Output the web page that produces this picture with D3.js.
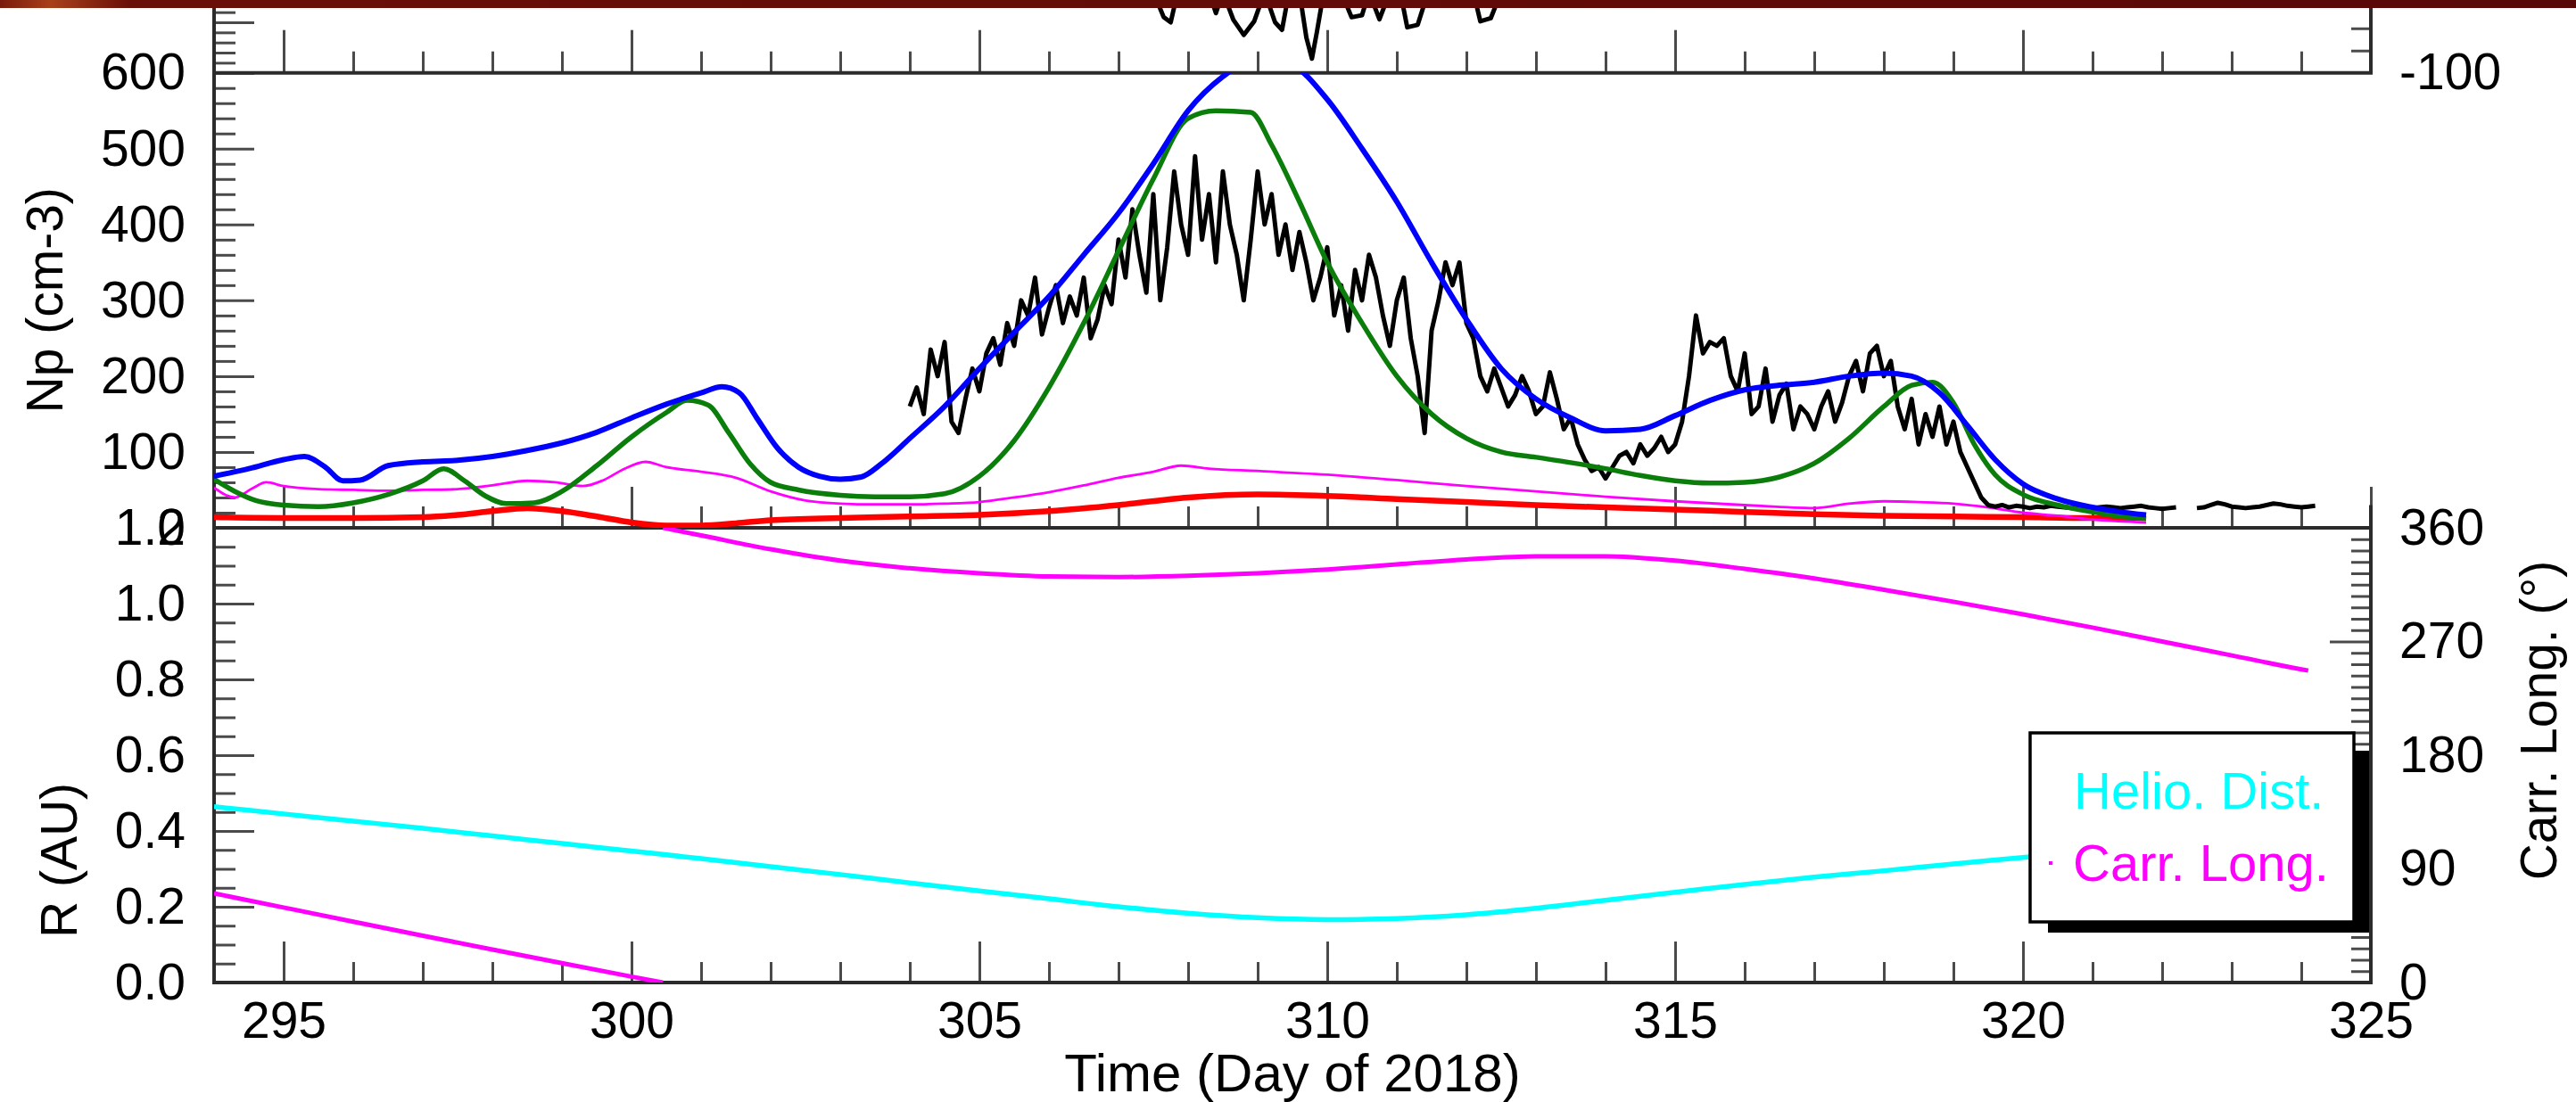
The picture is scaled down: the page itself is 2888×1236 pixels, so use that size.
<!DOCTYPE html>
<html>
<head>
<meta charset="utf-8">
<script src="https://cdn.jsdelivr.net/npm/d3@7"></script>
<style>
  html, body { margin: 0; padding: 0; background: #ffffff; }
  svg { display: block; }
  text { font-family: "Liberation Sans", Arial, Helvetica, sans-serif; fill: #000; }
</style>
</head>
<body>
<svg id="chart" width="2888" height="1236"></svg>
<script>
// ---------------- data ----------------
const dayMajor = [295, 300, 305, 310, 315, 320, 325];
const dayMinor = d3.range(294, 326);
const npTicks = [0, 100, 200, 300, 400, 500, 600];
const rTicks = [0.0, 0.2, 0.4, 0.6, 0.8, 1.0, 1.2];
const longTicks = [0, 90, 180, 270, 360];

// model density A (blue)
const blueDay = [294.0, 294.5, 295.0, 295.3, 295.6, 295.85, 296.1, 296.5, 297.0, 297.5, 298.0, 298.5, 299.0, 299.5, 300.0, 300.5, 301.0, 301.3, 301.55, 301.8, 302.1, 302.4, 302.7, 303.0, 303.3, 303.6, 304.0, 304.5, 305.0, 305.5, 306.0, 306.5, 307.0, 307.5, 308.0, 308.5, 309.0, 309.5, 310.0, 310.5, 311.0, 311.5, 312.0, 312.5, 313.0, 313.5, 314.0, 314.5, 315.0, 315.5, 316.0, 316.5, 317.0, 317.5, 318.0, 318.4, 318.8, 319.2, 319.6, 320.0, 320.5, 321.0, 321.4, 321.77];
const blueNp = [68, 78, 90, 94, 80, 62, 63, 82, 87, 89, 94, 102, 112, 126, 145, 163, 178, 186, 178, 145, 105, 80, 68, 64, 67, 85, 118, 160, 210, 258, 305, 360, 415, 480, 550, 595, 620, 610, 565, 500, 430, 350, 275, 210, 170, 145, 128, 130, 148, 168, 182, 188, 192, 200, 204, 200, 178, 135, 90, 58, 38, 27, 21, 17];

// model density B (green)
const greenDay = [294.0, 294.3, 294.6, 295.0, 295.5, 296.0, 296.5, 297.0, 297.3, 297.6, 297.9, 298.2, 298.6, 299.0, 299.5, 300.0, 300.5, 300.8, 301.1, 301.4, 301.7, 302.0, 302.4, 303.0, 303.5, 304.0, 304.5, 305.0, 305.5, 306.0, 306.5, 307.0, 307.5, 308.0, 308.4, 308.9, 309.2, 309.6, 310.0, 310.5, 311.0, 311.5, 312.0, 312.5, 313.0, 313.5, 314.0, 314.5, 315.0, 315.5, 316.0, 316.5, 317.0, 317.5, 318.0, 318.4, 318.7, 319.0, 319.3, 319.6, 320.0, 320.5, 321.0, 321.4, 321.77];
const greenNp = [64, 48, 36, 30, 28, 33, 44, 62, 78, 62, 42, 32, 33, 48, 82, 120, 152, 168, 162, 125, 85, 60, 50, 43, 41, 41, 45, 68, 115, 185, 270, 365, 460, 540, 550, 548, 505, 430, 350, 270, 200, 150, 118, 100, 93, 86, 78, 69, 62, 59, 60, 67, 85, 118, 160, 188, 192, 165, 110, 70, 44, 30, 21, 15, 12];

// model density C (thin magenta)
const magDay = [294.0, 294.3, 294.55, 294.75, 295.0, 295.5, 296.0, 296.5, 297.0, 297.5, 298.0, 298.5, 298.9, 299.3, 299.6, 299.9, 300.2, 300.5, 301.0, 301.5, 302.0, 302.5, 303.0, 303.5, 304.0, 304.5, 305.0, 305.5, 306.0, 306.5, 307.0, 307.5, 307.9, 308.3, 309.0, 310.0, 311.0, 312.0, 313.0, 314.0, 315.0, 316.0, 317.0, 317.5, 318.0, 318.5, 319.0, 319.5, 320.0, 320.5, 321.0, 321.77];
const magNp = [53, 40, 52, 60, 55, 51, 50, 49, 50, 51, 56, 62, 60, 55, 63, 78, 87, 80, 74, 66, 48, 36, 32, 31, 31, 32, 34, 40, 47, 56, 66, 74, 82, 78, 75, 70, 63, 55, 48, 41, 35, 30, 26, 32, 35, 34, 32, 27, 20, 16, 11, 7];

// model density D (red)
const redDay = [294.0, 295.0, 296.0, 297.0, 297.5, 298.0, 298.5, 299.0, 299.5, 300.0, 300.5, 301.0, 301.5, 302.0, 303.0, 304.0, 305.0, 306.0, 307.0, 308.0, 309.0, 310.0, 311.0, 312.0, 313.0, 314.0, 315.0, 316.0, 317.0, 318.0, 319.0, 320.0, 321.0, 321.77];
const redNp = [14, 13, 13, 14, 17, 22, 26, 22, 15, 7, 3, 3, 6, 10, 13, 15, 17, 22, 30, 40, 44, 42, 38, 34, 30, 27, 24, 21, 18, 16, 15, 14, 13, 13];

// measured proton density (black), 0.1-day cadence from day 304.0; null = data gap
const obsStart = 304.0;
const obsStep = 0.1;
const obsNp = [160, 185, 150, 235, 200, 245, 140, 125, 170, 210,
  180, 230, 250, 215, 270, 240, 300, 280, 330, 255,
  290, 320, 270, 305, 280, 330, 250, 275, 320, 295,
  380, 330, 420, 360, 310, 440, 300, 370, 470, 400,
  360, 490, 380, 440, 350, 470, 400, 360, 300, 380,
  470, 400, 440, 360, 400, 340, 390, 350, 300, 330,
  370, 280, 320, 260, 340, 300, 360, 330, 280, 240,
  300, 330, 250, 200, 125, 260, 300, 350, 320, 350,
  270, 250, 200, 180, 210, 185, 160, 175, 200, 180,
  150, 160, 205, 170, 130, 145, 110, 90, 75, 80,
  65, 80, 95, 100, 85, 110, 95, 105, 120, 100,
  110, 140, 200, 280, 230, 245, 240, 250, 200, 180,
  230, 150, 160, 210, 140, 175, 190, 130, 160, 150,
  130, 160, 180, 140, 165, 200, 220, 180, 230, 240,
  200, 220, 160, 130, 170, 110, 150, 120, 160, 110,
  140, 100, 80, 60, 40, 30, 28, 30, 27, 29,
  28, 26, 28, 27, 29, 28, 27, 26, 28, 27,
  26, 27, 28, 27, 26, 27, 28, 29, 27, 26,
  25, 26, 27, null, null, 26, 27, 30, 33, 31,
  28, 27, 26, 27, 28, 30, 32, 31, 29, 28,
  27, 28, 29];

// upper-panel trace (mostly above the visible window)
const topDay = [304.0, 307.5, 307.65, 307.75, 307.85, 308.3, 308.4, 308.5, 308.65, 308.8, 308.95, 309.1, 309.25, 309.35, 309.45, 309.6, 309.7, 309.78, 309.85, 309.95, 310.2, 310.35, 310.5, 310.6, 310.75, 310.9, 311.05, 311.15, 311.3, 311.45, 311.6, 312.1, 312.2, 312.35, 312.5, 312.65, 316.0];
const topVal = [60, 60, 10, 0, 60, 60, 18, 60, 5, -25, 2, 60, 0, -15, 60, 60, -30, -72, -20, 60, 60, 10, 14, 60, 6, 60, 60, -10, -5, 60, 60, 60, 2, 8, 60, 60, 60];

// heliocentric distance (AU) and Carrington longitude (deg)
const rDay = d3.range(294, 325);
const rAU = [0.464, 0.445, 0.426, 0.407, 0.387, 0.367, 0.347, 0.327, 0.306, 0.285, 0.263, 0.242, 0.221, 0.200, 0.183, 0.171, 0.166, 0.169, 0.179, 0.196, 0.217, 0.238, 0.259, 0.278, 0.295, 0.313, 0.330, 0.348, 0.366, 0.384, 0.402];
const clDay = [294, 295, 296, 297, 298, 299, 300, 300.45, 300.45, 301, 302, 303, 304, 305, 306, 307, 308, 309, 310, 311, 312, 313, 314, 315, 316, 317, 318, 319, 320, 321, 322, 323, 324, 324.1];
const clDeg = [70.6, 59.4, 48.2, 37.1, 26.1, 15.3, 4.7, 0, 360, 354, 343, 334, 328, 324, 321.5, 321, 322, 324, 327, 331, 335, 337.5, 337.5, 334, 327.5, 320, 311, 301.5, 291.5, 281, 270, 259, 248, 247];
const clBreak = 7; // wrap from 0 to 360 deg

const legendLabels = ["Helio. Dist.", "Carr. Long."];

// ---------------- layout ----------------
const svg = d3.select("#chart");
const x = d3.scaleLinear().domain([294, 325]).range([240, 2658]);
const yTop = d3.scaleLinear().domain([-100, 0]).range([81.7, 25]);
const yTopR = d3.scaleLinear().domain([-100, 0]).range([81.7, -168]);
const yNp = d3.scaleLinear().domain([0, 600]).range([592, 81.7]);
const yR = d3.scaleLinear().domain([0, 1.2]).range([1102, 592]);
const yCL = d3.scaleLinear().domain([0, 360]).range([1102, 592]);

const FS = 57;
const tickCol = "#4a4a4a";
const frameCol = "#2b2b2b";

const defs = svg.append("defs");
const grad = defs.append("linearGradient").attr("id", "band").attr("x1", 0).attr("x2", 1);
grad.append("stop").attr("offset", "0").attr("stop-color", "#7a1a0c");
grad.append("stop").attr("offset", "0.02").attr("stop-color", "#a8401a");
grad.append("stop").attr("offset", "0.05").attr("stop-color", "#6a0e08");
grad.append("stop").attr("offset", "1").attr("stop-color", "#5a0707");

function clip(id, y0, y1) {
  defs.append("clipPath").attr("id", id).append("rect")
    .attr("x", x(294)).attr("y", y0).attr("width", x(325) - x(294)).attr("height", y1 - y0);
}
clip("cTop", 0, yTop(-100));
clip("cMid", yNp(600), yNp(0));
clip("cBot", yR(1.2), yR(0));

// ---------------- tick helpers ----------------
function styleTicks(g) {
  g.select(".domain").remove();
  g.selectAll(".tick line").attr("stroke", tickCol).attr("stroke-width", 3);
  g.selectAll(".tick text").attr("font-size", FS).attr("fill", "#000")
    .attr("font-family", '"Liberation Sans", Arial, sans-serif');
}
function ticks(axis, tx, ty) {
  const g = svg.append("g").attr("transform", `translate(${tx},${ty})`).call(axis);
  styleTicks(g);
  return g;
}
const plain = d => String(d);

// bottom-edge day ticks (pointing up) for each panel
function dayTicks(yPos, majorLen, minorLen, labels) {
  ticks(d3.axisBottom(x).tickValues(dayMinor.filter(d => dayMajor.indexOf(d) < 0)).tickSize(-minorLen).tickFormat(""), 0, yPos);
  return ticks(d3.axisBottom(x).tickValues(dayMajor).tickSize(-majorLen).tickPadding(22)
    .tickFormat(labels ? plain : ""), 0, yPos);
}
dayTicks(yTop(-100), 48, 24, false);
dayTicks(yNp(0), 46, 24, false);
dayTicks(yR(0), 46, 23, true);

// left ticks: upper panel
ticks(d3.axisLeft(yTop).tickValues(d3.range(-80, 41, 20).filter(v => v % 100 !== 0)).tickSize(-24).tickFormat(""), x(294), 0);
ticks(d3.axisLeft(yTop).tickValues([0]).tickSize(-45).tickFormat(""), x(294), 0);
// right ticks: upper panel
ticks(d3.axisRight(yTopR).tickValues([-90, -80, -70, -60]).tickSize(-22).tickFormat(""), x(325), 0);
ticks(d3.axisRight(yTopR).tickValues([-100]).tickSize(0).tickPadding(32).tickFormat(plain), x(325), 0);

// left ticks: density panel
ticks(d3.axisLeft(yNp).tickValues(d3.range(20, 600, 20).filter(v => v % 100 !== 0)).tickSize(-24).tickFormat(""), x(294), 0);
ticks(d3.axisLeft(yNp).tickValues(npTicks).tickSize(-45).tickPadding(32).tickFormat(plain), x(294), 0);

// left ticks: distance panel
ticks(d3.axisLeft(yR).tickValues(d3.range(1, 24).map(i => i * 0.05).filter((v, i) => (i + 1) % 4 !== 0)).tickSize(-24).tickFormat(""), x(294), 0);
ticks(d3.axisLeft(yR).tickValues(rTicks).tickSize(-45).tickPadding(32).tickFormat(d3.format(".1f")), x(294), 0);

// right ticks: Carrington longitude
ticks(d3.axisRight(yCL).tickValues(d3.range(9, 360, 9).filter(v => v % 90 !== 0)).tickSize(-22).tickFormat(""), x(325), 0);
ticks(d3.axisRight(yCL).tickValues(longTicks).tickSize(-46).tickPadding(32).tickFormat(plain), x(325), 0);

// ---------------- frame ----------------
const frame = svg.append("g").attr("stroke", frameCol).attr("stroke-width", 4).attr("fill", "none");
frame.append("line").attr("x1", x(294)).attr("x2", x(294)).attr("y1", 0).attr("y2", yR(0) + 2);
frame.append("line").attr("x1", x(325)).attr("x2", x(325)).attr("y1", 0).attr("y2", yTop(-100));
frame.append("line").attr("x1", x(325)).attr("x2", x(325)).attr("y1", yNp(30)).attr("y2", yR(0) + 2);
[yTop(-100), yNp(0), yR(0)].forEach(yy =>
  frame.append("line").attr("x1", x(294) - 2).attr("x2", x(325) + 2).attr("y1", yy).attr("y2", yy));

// ---------------- series ----------------
function drawLine(clipId, xs, ys, yScale, color, width, curve) {
  const pts = xs.map((d, i) => [d, ys[i]]);
  const line = d3.line()
    .defined(p => p[1] !== null)
    .x(p => x(p[0])).y(p => yScale(p[1]))
    .curve(curve || d3.curveLinear);
  svg.append("path").attr("clip-path", `url(#${clipId})`)
    .attr("d", line(pts)).attr("fill", "none")
    .attr("stroke", color).attr("stroke-width", width)
    .attr("stroke-linejoin", "round").attr("stroke-linecap", "butt");
}

// upper panel trace
drawLine("cTop", topDay, topVal, yTop, "#000", 5);

// density panel
drawLine("cMid", redDay, redNp, yNp, "#ff0000", 6.5, d3.curveMonotoneX);
drawLine("cMid", magDay, magNp, yNp, "#ff00ff", 2.8, d3.curveMonotoneX);
const obsDay = obsNp.map((_, i) => obsStart + i * obsStep);
drawLine("cMid", obsDay, obsNp, yNp, "#000", 5);
drawLine("cMid", greenDay, greenNp, yNp, "#0b7d0b", 5.5, d3.curveMonotoneX);
drawLine("cMid", blueDay, blueNp, yNp, "#0000ff", 6, d3.curveMonotoneX);

// distance panel
drawLine("cBot", rDay, rAU, yR, "#00ffff", 5.5, d3.curveMonotoneX);
drawLine("cBot", clDay.slice(0, clBreak + 1), clDeg.slice(0, clBreak + 1), yCL, "#ff00ff", 5, d3.curveMonotoneX);
drawLine("cBot", clDay.slice(clBreak + 1), clDeg.slice(clBreak + 1), yCL, "#ff00ff", 5, d3.curveMonotoneX);

// ---------------- legend ----------------
const lg = svg.append("g");
lg.append("rect").attr("x", 2296).attr("y", 842).attr("width", 360).attr("height", 204).attr("fill", "#000");
lg.append("rect").attr("x", 2276).attr("y", 822).attr("width", 363).attr("height", 212)
  .attr("fill", "#fff").attr("stroke", "#000").attr("stroke-width", 3.5);
lg.append("text").attr("x", 2325).attr("y", 907).attr("font-size", 58).style("fill", "#00ffff").text(legendLabels[0]);
lg.append("rect").attr("x", 2297).attr("y", 966).attr("width", 4).attr("height", 4).attr("fill", "#ff00ff");
lg.append("text").attr("x", 2324).attr("y", 988).attr("font-size", 58).style("fill", "#ff00ff").text(legendLabels[1]);

// ---------------- titles ----------------
svg.append("text").attr("transform", `translate(70,${(yNp(0) + yNp(600)) / 2}) rotate(-90)`)
  .attr("text-anchor", "middle").attr("font-size", FS).text("Np (cm-3)");
svg.append("text").attr("transform", `translate(86,965) rotate(-90)`)
  .attr("text-anchor", "middle").attr("font-size", FS).text("R (AU)");
svg.append("text").attr("transform", `translate(2866,808) rotate(-90)`)
  .attr("text-anchor", "middle").attr("font-size", FS).text("Carr. Long. (°)");
svg.append("text").attr("x", (x(294) + x(325)) / 2).attr("y", 1224)
  .attr("text-anchor", "middle").attr("font-size", 60).text("Time (Day of 2018)");

// top band
svg.append("rect").attr("x", 0).attr("y", 0).attr("width", 2888).attr("height", 9).attr("fill", "url(#band)");
</script>
</body>
</html>
